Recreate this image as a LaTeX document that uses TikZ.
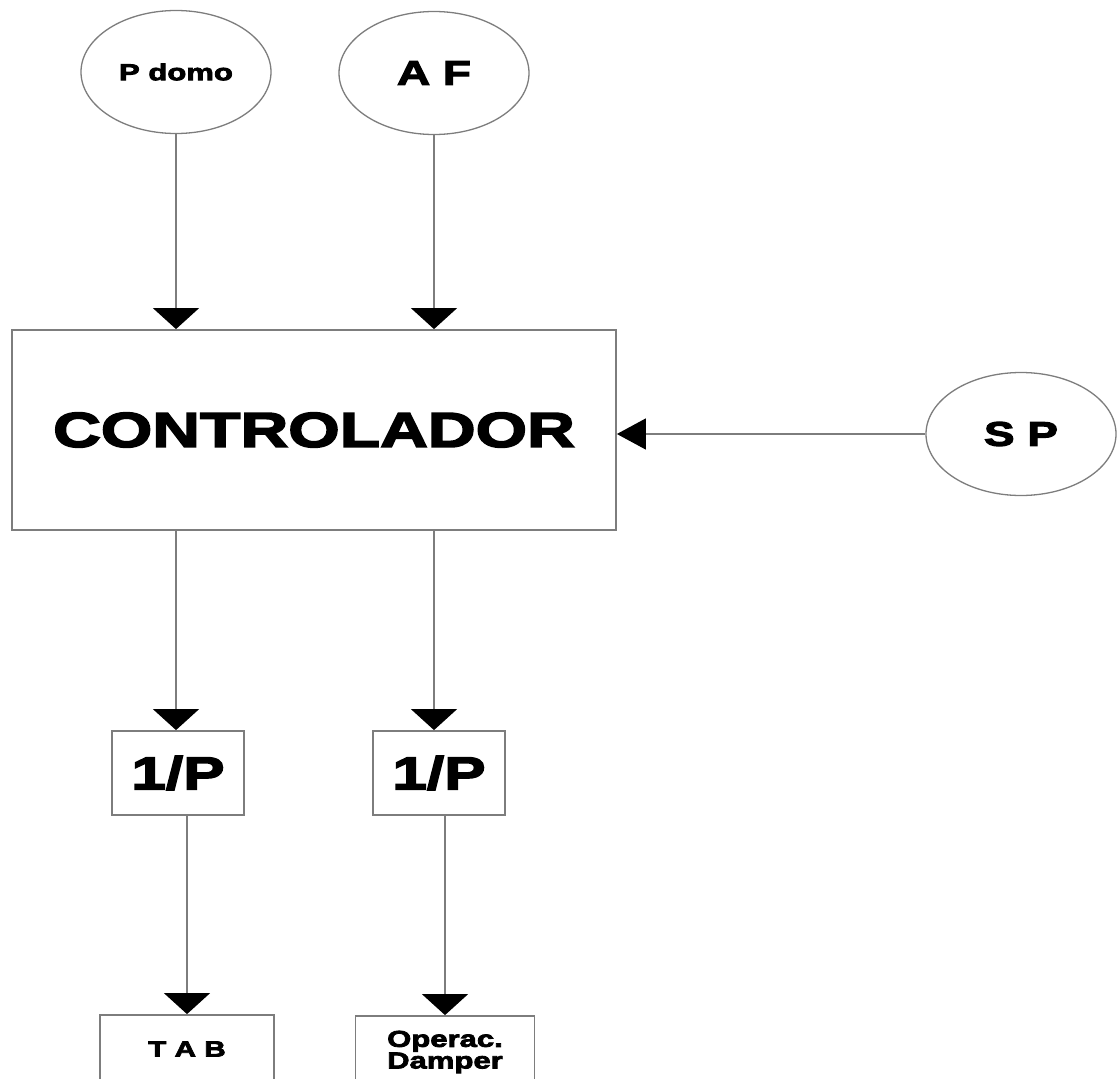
\documentclass[tikz,border=0pt]{standalone}
\usepackage{fontspec}
\setmainfont{Liberation Sans}
\newfontfamily\heavy[FakeStretch=1.35,FakeBold=3.5]{Liberation Sans Bold}
\usetikzlibrary{arrows.meta,shapes.geometric}
\definecolor{linegray}{RGB}{125,125,125}
\begin{document}
\begin{tikzpicture}[x=1pt,y=-1pt,
  bubble/.style={draw=linegray, line width=1.3pt, ellipse, minimum width=190pt, minimum height=123pt, inner sep=0pt},
  blk/.style={draw=linegray, line width=1.8pt, rectangle, inner sep=0pt},
  flow/.style={draw=linegray, line width=1.4pt, -{Triangle[width=46pt,length=21pt,black]}},
  flowsp/.style={draw=linegray, line width=1.4pt, -{Triangle[width=31pt,length=29pt,black]}}]
\clip (0,0) rectangle (1120,1079);
\useasboundingbox (0,0) rectangle (1120,1079);

\node[bubble, font=\heavy\fontsize{23}{26}\selectfont] (pdomo) at (176,72) {P domo};
\node[bubble, font=\heavy\fontsize{34}{38}\selectfont] (af) at (434,73) {A F};
\node[bubble, font=\heavy\fontsize{34}{38}\selectfont] (sp) at (1021,434) {S P};

\node[blk, minimum width=604pt, minimum height=200pt, font=\heavy\fontsize{49}{54}\selectfont] (ctrl) at (314,430) {CONTROLADOR};

\node[blk, minimum width=132pt, minimum height=84pt, font=\heavy\fontsize{46}{50}\selectfont] (ip1) at (178,773) {1/P};
\node[blk, minimum width=132pt, minimum height=84pt, font=\heavy\fontsize{46}{50}\selectfont] (ip2) at (439,773) {1/P};

\node[blk, minimum width=174pt, minimum height=68pt, font=\heavy\fontsize{22}{24}\selectfont] (tab) at (187,1049) {T A B};
\node[blk, minimum width=179pt, minimum height=72pt, align=center, font=\heavy\fontsize{23}{19}\selectfont] (opd) at (445,1052) {Operac.\\Damper};

\draw[flow] (pdomo.south) -- (pdomo.south |- ctrl.north);
\draw[flow] (af.south) -- (af.south |- ctrl.north);
\draw[flowsp] (sp.west) -- (sp.west -| ctrl.east);
\draw[flow] (ctrl.south -| pdomo) -- (pdomo |- ip1.north);
\draw[flow] (ctrl.south -| af) -- (af |- ip2.north);
\draw[flow] (ip1.south -| tab) -- (tab.north);
\draw[flow] (ip2.south -| opd) -- (opd.north);
\end{tikzpicture}
\end{document}
